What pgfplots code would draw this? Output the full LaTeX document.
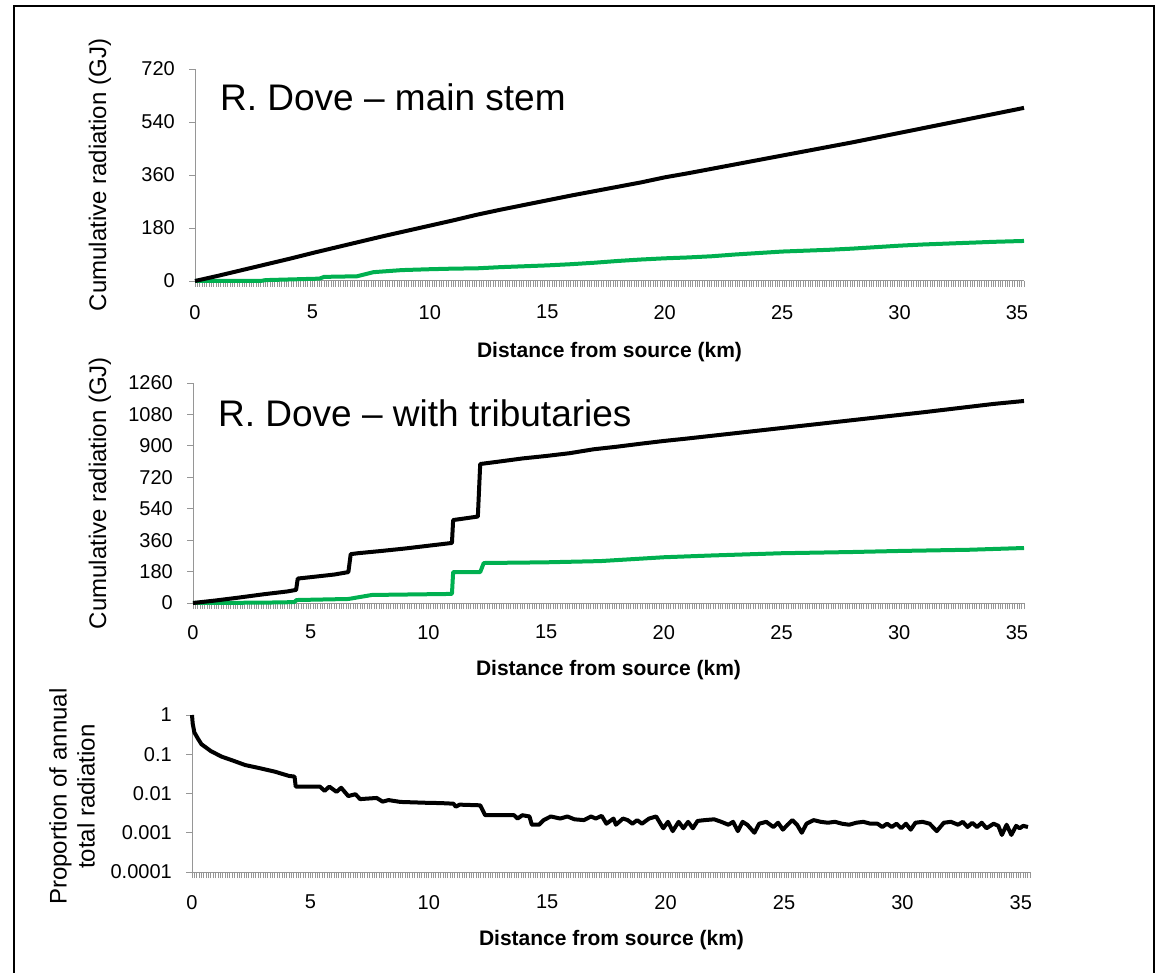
\documentclass[border=0pt]{standalone}
\usepackage{fontspec}
\setmainfont{Liberation Sans}
\usepackage{pgfplots}
\usepackage{pgfplotstable}
\pgfplotsset{compat=1.18}

\definecolor{exgreen}{RGB}{0,176,80}
\definecolor{axgray}{RGB}{150,150,150}

% Cumulative radiation along the main stem (km, GJ)
\pgfplotstableread{
km   total
0    0
1    18
2    37
3    56
4    75
5    95
6    114
7    133
8    152
9    170
10   188
11   206
12   225
13   242
14   258
15   274
16   290
17   305
18   320
19   335
20   352
21   366
22   381
23   396
24   411
25   426
26   441
27   456
28   471
29   487
30   503
31   519
32   535
33   551
34   567
35   583
35.3 588
}\mainblack

\pgfplotstableread{
km   total
0    0
2.8  0
3.0  3
5.3  8
5.5  14
6.9  16
7.6  30
8.8  37
10   40
11   42
12   43
13   47
14   50
15   53
16   57
17   62
18   68
19   73
20   77
21   80
22   84
23   90
24   95
25   100
26   103
27   106
28   110
29   115
30   120
31   124
32   127
33   130
34   133
35.3 136
}\maingreen

% Cumulative radiation with tributaries (km, GJ)
\pgfplotstableread{
km    total
0     0
1     15
2     32
3     50
4     66
4.38  75
4.45  140
5     148
6     163
6.6   177
6.7   280
7     285
8     298
9     312
10    328
11.0  344
11.05 475
12.1  495
12.2  796
13    810
14    828
15    842
16    858
17    880
18    895
19    912
20    928
21    942
22    957
23    972
24    987
25    1002
26    1017
27    1032
28    1047
29    1062
30    1077
31    1092
32    1108
33    1124
34    1140
35.3  1157
}\tribblack

\pgfplotstableread{
km    total
0     0
3     2
4.3   5
4.4   17
6.6   23
7.6   46
11.0  52
11.05 177
12.2  177
12.35 229
15    233
17.3  240
20    262
22    272
25    285
28    292
30    298
33    305
35.3  315
}\tribgreen

% Proportion of annual total radiation (km, proportion)
\pgfplotstableread{
km    prop
0     1
0.03  0.6
0.1   0.36
0.25  0.25
0.4   0.18
0.8   0.12
1.25  0.087
1.67  0.071
2.25  0.053
2.8   0.045
3.5   0.036
4.1   0.028
4.33  0.027
4.38  0.015
4.9   0.015
5.4   0.015
5.6   0.0117
5.8   0.015
6.1   0.011
6.3   0.014
6.6   0.0086
6.9   0.0096
7.1   0.0072
7.8   0.0077
8.05  0.0062
8.3   0.0068
8.8   0.0061
9.9   0.0058
10.5  0.0057
11.04 0.0055
11.14 0.0046
11.3  0.0052
12.17 0.0050
12.38 0.0028
13.6  0.0028
13.75 0.0023
13.95 0.0028
14.25 0.0026
14.35 0.0016
14.65 0.0016
14.85 0.0021
15.15 0.0026
15.55 0.0023
15.85 0.0026
16.15 0.0022
16.55 0.0021
16.85 0.0026
17.05 0.0023
17.3  0.0027
17.5  0.0017
17.8  0.0023
17.9  0.0016
18.2  0.0023
18.4  0.0021
18.6  0.0017
18.8  0.0021
19.0  0.0017
19.3  0.0023
19.6  0.0026
19.9  0.0013
20.1  0.0019
20.3  0.0011
20.55 0.0019
20.75 0.0013
20.95 0.0019
21.15 0.0013
21.35 0.0020
21.65 0.0021
22.05 0.0022
22.35 0.0019
22.65 0.0016
22.85 0.0019
23.05 0.0011
23.25 0.0019
23.45 0.0016
23.75 0.0010
23.95 0.0017
24.25 0.0019
24.55 0.0014
24.75 0.0018
24.95 0.0012
25.15 0.0016
25.35 0.0021
25.55 0.0016
25.75 0.0010
25.95 0.0017
26.25 0.0021
26.55 0.0019
26.85 0.0018
27.15 0.0019
27.45 0.0017
27.75 0.0016
28.05 0.0018
28.35 0.0019
28.65 0.0017
28.95 0.0017
29.15 0.0014
29.35 0.0017
29.55 0.0014
29.75 0.0017
29.95 0.0013
30.15 0.0017
30.35 0.0012
30.55 0.0018
30.85 0.0019
31.15 0.0017
31.45 0.0011
31.75 0.0018
32.05 0.0019
32.35 0.0016
32.55 0.0019
32.75 0.0014
32.95 0.0018
33.15 0.0014
33.35 0.0018
33.55 0.0013
33.85 0.0017
34.05 0.0015
34.2  0.00088
34.4  0.0016
34.6  0.00088
34.8  0.0015
34.95 0.0013
35.1  0.0015
35.3  0.0014
}\proportion

\pgfplotsset{
  rivpanel/.style={
    scale only axis,
    anchor=south west,
    axis lines*=left,
    axis line style={draw=axgray, line width=1pt},
    tick align=outside,
    major tick length=6pt,
    minor tick length=6pt,
    tick style={draw=axgray, line width=0.9pt},
    xmin=0,
    xtick={0,5,...,35},
    minor xtick={0,0.1,...,35.35},
    ticklabel style={font=\fontsize{20}{24}\selectfont, text=black},
    /pgf/number format/assume math mode=true,
    /pgf/number format/1000 sep={},
    xticklabel style={inner sep=0pt, yshift=-16pt},
    yticklabel style={inner sep=0pt, xshift=-14pt},
    xlabel={Distance from source (km)},
    xlabel style={font=\fontsize{21}{25}\selectfont\bfseries, anchor=center},
    ylabel style={font=\fontsize{24}{28}\selectfont, anchor=center},
    clip=false,
  },
  blackline/.style={black, line width=4pt, line join=round},
  greenline/.style={exgreen, line width=4pt, line join=round},
}

\begin{document}
\begin{tikzpicture}[x=1pt,y=1pt]
\useasboundingbox (0,0) rectangle (1155,972);

% outer frame
\draw[line width=2pt] (14,-10) -- (14,965.5) -- (1153.5,965.5) -- (1153.5,-10);

% main stem
\begin{axis}[rivpanel, at={(195pt,691pt)}, width=829pt, height=212pt,
  xmax=35.3, ymin=0, ymax=720, ytick={0,180,...,720},
  ylabel={Cumulative radiation (GJ)},
  xticklabel style={yshift=-2pt},
  xlabel style={at={(axis description cs:0.5,-0.335)}},
  ylabel style={at={(axis description cs:-0.1146,0.5)}}]
  \addplot[greenline] table[x=km,y=total] {\maingreen};
  \addplot[blackline] table[x=km,y=total] {\mainblack};
\end{axis}
\node[anchor=west, inner sep=0pt, font=\fontsize{37}{44}\selectfont] at (220,875) {R. Dove – main stem};

% with tributaries
\begin{axis}[rivpanel, at={(193pt,369pt)}, width=831pt, height=220pt,
  xmax=35.3, ymin=0, ymax=1260, ytick={0,180,...,1260},
  ylabel={Cumulative radiation (GJ)},
  xlabel style={at={(axis description cs:0.5,-0.3045)}},
  ylabel style={at={(axis description cs:-0.1119,0.5)}}]
  \addplot[greenline] table[x=km,y=total] {\tribgreen};
  \addplot[blackline] table[x=km,y=total] {\tribblack};
\end{axis}
\node[anchor=west, inner sep=0pt, font=\fontsize{37}{44}\selectfont] at (218,559) {R. Dove – with tributaries};

% proportion of annual total
\begin{axis}[rivpanel, at={(192pt,100pt)}, width=839pt, height=157pt,
  xmax=35.43, ymode=log, ymin=1e-4, ymax=1,
  ytick={1e-4,1e-3,1e-2,1e-1,1},
  yticklabels={0.0001,0.001,0.01,0.1,1},
  yminorticks=false,
  ylabel={Proportion of annual\\total radiation},
  xticklabel style={yshift=-1pt},
  xlabel style={at={(axis description cs:0.5,-0.433)}},
  ylabel style={at={(axis description cs:-0.143,0.48)}, align=center}]
  \addplot[blackline] table[x=km,y=prop] {\proportion};
\end{axis}
\end{tikzpicture}
\end{document}
